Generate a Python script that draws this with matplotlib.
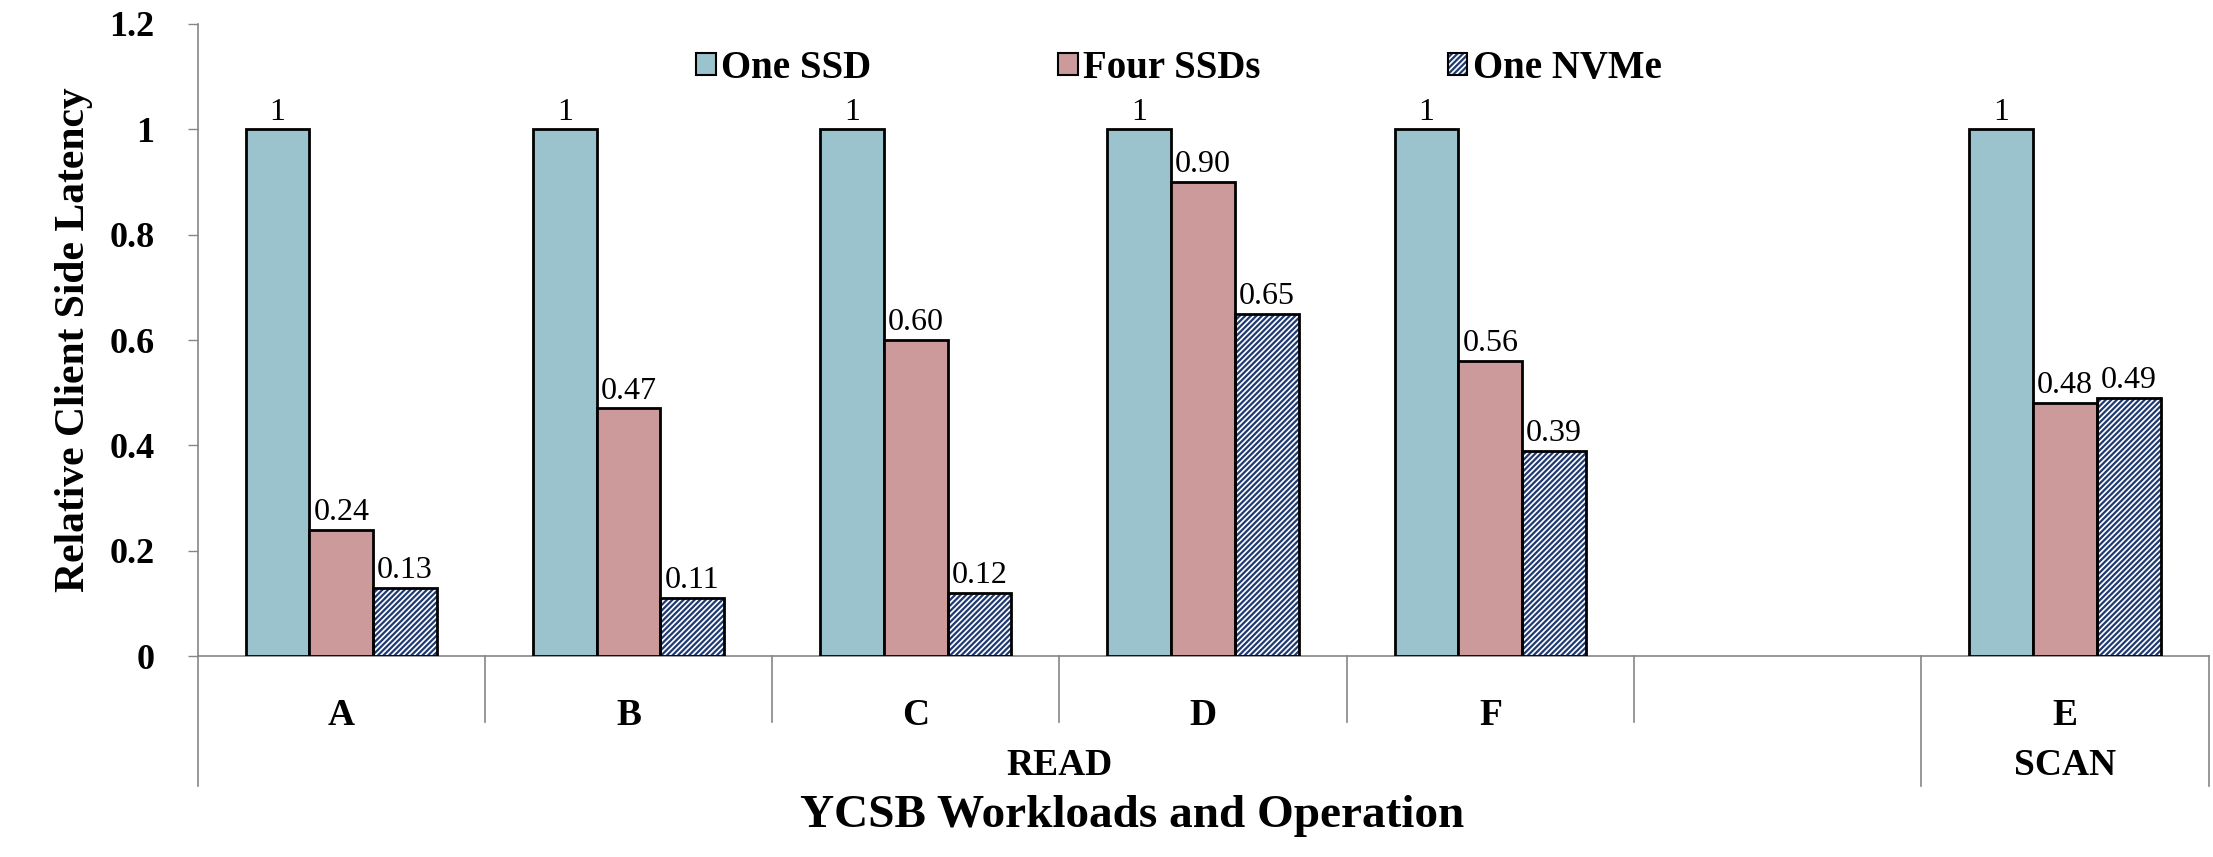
import numpy as np
import matplotlib
matplotlib.use('Agg')
import matplotlib.pyplot as plt
from matplotlib.patches import Patch

plt.rcParams['font.family'] = ['Liberation Serif', 'DejaVu Serif']
plt.rcParams['hatch.linewidth'] = 1.6

# Daten
categories = ['A', 'B', 'C', 'D', 'F', '', 'E']
operations = ['READ', 'SCAN']
operation_sizes = [6, 1]  # number of categories under each operation
one_ssd = [1, 1, 1, 1, 1, np.nan, 1]
four_ssds = [0.24, 0.47, 0.60, 0.90, 0.56, np.nan, 0.48]
one_nvme = [0.13, 0.11, 0.12, 0.65, 0.39, np.nan, 0.49]

c_ssd = '#9AC3CE'
c_four = '#CC9A9B'
c_nvme = '#1F3A73'
grey = '#868686'

fig = plt.figure(figsize=(22.13, 8.57), dpi=100)
ax = fig.add_axes([0.0893, 0.2345, 0.9087, 0.7375])

x = np.arange(len(categories))
w = 0.222

def draw(vals, offset, face, hatch=None, hatch_col=None, fmt='{:.2f}'):
    vals = np.array(vals, dtype=float)
    m = ~np.isnan(vals)
    if hatch:
        ax.bar(x[m] + offset, vals[m], w, color='white', edgecolor=hatch_col,
               hatch=hatch, linewidth=0, zorder=2)
        bars = ax.bar(x[m] + offset, vals[m], w, fill=False, edgecolor='black',
                      linewidth=2, zorder=3)
    else:
        bars = ax.bar(x[m] + offset, vals[m], w, color=face, edgecolor='black',
                      linewidth=2, zorder=3)
    ax.bar_label(bars, labels=[fmt.format(v) for v in vals[m]], padding=2,
                 fontsize=23)

draw(one_ssd, -w, c_ssd, fmt='{:g}')
draw(four_ssds, 0, c_four)
draw(one_nvme, w, None, hatch='//////', hatch_col=c_nvme)

ax.set_xlim(-0.5, len(categories) - 0.5)
ax.set_ylim(0, 1.2)
ax.set_yticks(np.arange(0, 1.21, 0.2))
ax.set_yticklabels(['0', '0.2', '0.4', '0.6', '0.8', '1', '1.2'],
                   fontsize=26, fontweight='bold')
ax.tick_params(axis='y', length=7, color=grey, width=1, pad=24)
ax.set_xticks(x)
ax.set_xticklabels(categories, fontsize=27, fontweight='bold')
ax.tick_params(axis='x', length=0, pad=30)
for s in ['top', 'right']:
    ax.spines[s].set_visible(False)
for s in ['left', 'bottom']:
    ax.spines[s].set_color(grey)
    ax.spines[s].set_linewidth(1.2)

# Trennlinien unter der Achse
trans = ax.get_xaxis_transform()
cat_depth, grp_depth = 0.1044, 0.2057
bounds = np.cumsum([0] + operation_sizes) - 0.5
for b in np.arange(-0.5, len(categories)):
    d = grp_depth if b in bounds else cat_depth
    ax.plot([b, b], [0, -d], transform=trans, color=grey, lw=1.2, clip_on=False)
for name, lo, hi in zip(operations, bounds[:-1], bounds[1:]):
    ax.text((lo + hi) / 2, -0.1725, name, transform=trans, ha='center',
            va='center', fontsize=27, fontweight='bold')

ax.set_ylabel('Relative Client Side Latency', fontsize=30, fontweight='bold',
              labelpad=12)
fig.text(0.5115, 0.048, 'YCSB Workloads and Operation', ha='center',
         va='center', fontsize=34, fontweight='bold')

handles = [Patch(facecolor=c_ssd, edgecolor='black', linewidth=1.5),
           Patch(facecolor=c_four, edgecolor='black', linewidth=1.5),
           (Patch(facecolor='white', edgecolor=c_nvme, hatch='//////', linewidth=0),
            Patch(fill=False, edgecolor='black', linewidth=1.5))]
ax.legend(handles, ['One SSD', 'Four SSDs', 'One NVMe'], ncol=3,
          loc='center', bbox_to_anchor=(0.488, 0.93), frameon=False,
          prop={'size': 28, 'weight': 'bold'}, handlelength=0.5,
          handleheight=0.5, handletextpad=0.15, columnspacing=4.8)

fig.savefig('out.png', dpi=100)
